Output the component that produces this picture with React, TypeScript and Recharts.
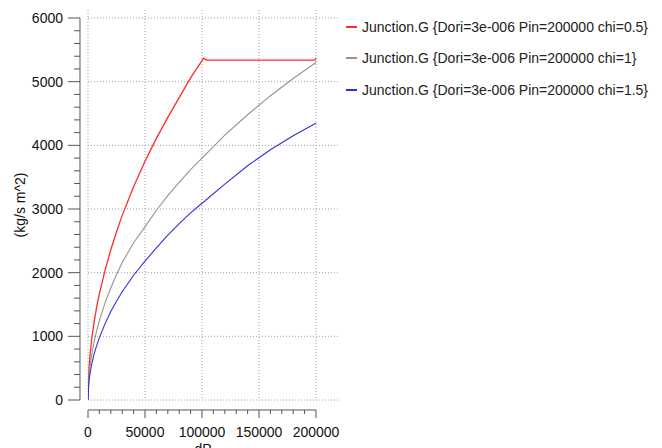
import React from "react";
import { LineChart, Line, XAxis, YAxis, CartesianGrid, ReferenceLine } from "recharts";

// pressure drop (Pa)
const dP = [
  0, 500, 1000, 2000, 3500, 5000, 7500, 10000, 15000, 20000, 25000, 30000, 40000, 50000,
  60000, 70000, 80000, 90000, 100000, 101500, 104000, 120000, 140000, 160000, 180000, 199000, 200000,
];

// Junction.G (kg/s m^2)
const gChi05 = [
  0, 330, 530, 750, 990, 1180, 1450, 1670, 2040, 2360, 2640, 2900, 3350, 3750,
  4110, 4440, 4750, 5060, 5330, 5370, 5340, 5340, 5340, 5340, 5340, 5340, 5375,
];
const gChi1 = [
  0, 250, 400, 560, 740, 880, 1080, 1250, 1530, 1760, 1970, 2160, 2470, 2720,
  2980, 3210, 3420, 3620, 3800, 3825, 3870, 4160, 4480, 4780, 5050, 5290, 5310,
];
const gChi15 = [
  0, 200, 310, 440, 580, 700, 850, 980, 1200, 1390, 1550, 1700, 1960, 2180,
  2390, 2590, 2770, 2940, 3090, 3110, 3150, 3390, 3680, 3930, 4150, 4340, 4350,
];

const seriesNames = [
  "Junction.G {Dori=3e-006 Pin=200000 chi=0.5}",
  "Junction.G {Dori=3e-006 Pin=200000 chi=1}",
  "Junction.G {Dori=3e-006 Pin=200000 chi=1.5}",
];
const seriesKeys = ["chi05", "chi1", "chi15"];
const seriesColors = ["#ff2a2a", "#9e9184", "#3030e0"];

const xTicks = Array.from({ length: 21 }, (_, i) => i * 10000);
const yTicks = Array.from({ length: 31 }, (_, i) => i * 200);
const xGrid = [0, 50000, 100000, 150000, 200000];
const yGrid = [0, 1000, 2000, 3000, 4000, 5000, 6000];

const X_MAX = 219300;
const Y_MAX = 6126;
// axis lines sit a little outside the plot, as in the original tool
const Y_AXIS_AT = -7018;
const X_AXIS_AT = -157;

const data = dP.map((x, i) => ({
  dP: x,
  chi05: gChi05[i],
  chi1: gChi1[i],
  chi15: gChi15[i],
}));

const font = "'Liberation Sans', Arial, sans-serif";
const axisColor = "#555";

function YTick(props: any) {
  const { x, y, payload } = props;
  const major = payload.value % 1000 === 0;
  return (
    <g>
      <line x1={x - 8 - (major ? 12 : 6)} x2={x - 8} y1={y} y2={y} stroke={axisColor} />
      {major && (
        <text x={x - 25} y={y} dy={5} textAnchor="end" fontSize={14} fontFamily={font} fill="#111">
          {payload.value}
        </text>
      )}
    </g>
  );
}

function XTick(props: any) {
  const { x, y, payload } = props;
  const major = payload.value % 50000 === 0;
  return (
    <g>
      <line x1={x} x2={x} y1={y + 10} y2={y + 10 + (major ? 8 : 4)} stroke={axisColor} />
      {major && (
        <text x={x} y={y + 37} textAnchor="middle" fontSize={14} fontFamily={font} fill="#111">
          {payload.value}
        </text>
      )}
    </g>
  );
}

export default function App() {
  return (
    <div
      style={{
        position: "absolute",
        left: 0,
        top: 0,
        width: 662,
        height: 448,
        background: "#fff",
        overflow: "hidden",
        fontFamily: font,
      }}
    >
      <LineChart width={662} height={448} data={data} margin={{ top: 10, right: 324, left: 0, bottom: 0 }}>
        <CartesianGrid
          stroke="#a0a0a0"
          strokeDasharray="1 2"
          horizontalValues={yGrid}
          verticalValues={xGrid}
        />
        <XAxis
          dataKey="dP"
          type="number"
          domain={[0, X_MAX]}
          allowDataOverflow
          ticks={xTicks}
          interval={0}
          height={48}
          tickSize={0}
          tickMargin={0}
          axisLine={false}
          tickLine={false}
          tick={<XTick />}
        />
        <YAxis
          type="number"
          domain={[0, Y_MAX]}
          allowDataOverflow
          ticks={yTicks}
          interval={0}
          width={88}
          tickSize={0}
          tickMargin={0}
          axisLine={false}
          tickLine={false}
          tick={<YTick />}
        />
        <ReferenceLine
          segment={[{ x: Y_AXIS_AT, y: 0 }, { x: Y_AXIS_AT, y: 6000 }]}
          stroke={axisColor}
          ifOverflow="visible"
        />
        <ReferenceLine
          segment={[{ x: 0, y: X_AXIS_AT }, { x: 200000, y: X_AXIS_AT }]}
          stroke={axisColor}
          ifOverflow="visible"
        />
        {seriesKeys.map((k, i) => (
          <Line
            key={k}
            dataKey={k}
            type="linear"
            stroke={seriesColors[i]}
            strokeWidth={i === 0 ? 1.3 : 1.1}
            dot={false}
            isAnimationActive={false}
          />
        ))}
      </LineChart>

      {/* axis titles */}
      <div
        style={{
          position: "absolute",
          left: 20,
          top: 205,
          transform: "translate(-50%, -50%) rotate(-90deg)",
          fontSize: 14,
          color: "#111",
          whiteSpace: "nowrap",
        }}
      >
        (kg/s m^2)
      </div>
      <div
        style={{
          position: "absolute",
          left: 203,
          top: 441,
          transform: "translateX(-50%)",
          fontSize: 14,
          lineHeight: "16px",
          color: "#111",
        }}
      >
        dP
      </div>

      {/* legend */}
      <div style={{ position: "absolute", left: 346, top: 11 }}>
        {seriesNames.map((name, i) => (
          <div
            key={name}
            style={{ display: "flex", alignItems: "center", height: 31.5, fontSize: 14, color: "#222" }}
          >
            <span
              style={{ display: "inline-block", width: 11, height: 2, background: seriesColors[i], marginRight: 5 }}
            />
            <span style={{ whiteSpace: "nowrap" }}>{name}</span>
          </div>
        ))}
      </div>
    </div>
  );
}
